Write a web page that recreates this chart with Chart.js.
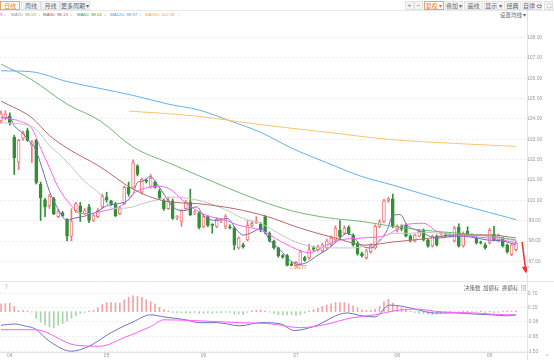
<!DOCTYPE html>
<html>
<head>
<meta charset="utf-8">
<script src="https://cdn.jsdelivr.net/npm/chart.js@4.4.0/dist/chart.umd.min.js"></script>
<style>
  body { margin: 0; width: 554px; height: 360px; background: #fff; position: relative; overflow: hidden;
         font-family: "Noto Sans CJK SC", "Liberation Sans", sans-serif; }
  .btn { position: absolute; top: 1px; height: 9px; line-height: 8px; box-sizing: border-box; font-size: 6px;
         color: #666; background: #f4f4f4; border: 1px solid #e2e2e2; text-align: center; white-space: nowrap; }
  .btn.on { background: #fff; border-color: #f2a068; color: #e8742c; }
  .lg { position: absolute; top: 12px; font-family: "Liberation Sans", sans-serif; font-size: 4.4px; line-height: 6px; white-space: nowrap; }
  .txt { position: absolute; font-size: 5.5px; line-height: 7px; color: #666; white-space: nowrap; }
  .hl { position: absolute; left: 0; width: 554px; height: 1px; background: #e8e8e8; }
  canvas { position: absolute; left: 0; }
</style>
</head>
<body>
<div class="btn on" style="left:0;width:20px">日线</div>
<div class="btn" style="left:21px;width:20px">周线</div>
<div class="btn" style="left:41px;width:19px">月线</div>
<div class="btn" style="left:60px;width:30px">更多周期 ▾</div>

<div class="btn" style="left:405px;width:9px">+</div>
<div class="btn" style="left:414px;width:9px">−</div>
<div class="btn on" style="left:424px;width:20px">复权 ▾</div>
<div class="btn" style="left:445px;width:18px">叠加 ▾</div>
<div class="btn" style="left:464px;width:19px">画线</div>
<div class="btn" style="left:484px;width:19px">显示 ▾</div>
<div class="btn" style="left:504px;width:17px">经典</div>
<div class="btn" style="left:522px;width:20px">自律 ⇔</div>
<div class="btn" style="left:544px;width:9px">⛶</div>
<div class="hl" style="top:10px"></div>

<div class="lg" style="left:0;color:#e050e0">9 ↓</div>
<div class="lg" style="left:11px;color:#999">MA20: 98.03</div><div class="lg" style="left:38px;color:#999">↓</div>
<div class="lg" style="left:43px;color:#b05050">MA30: 98.13</div><div class="lg" style="left:70px;color:#b05050">↓</div>
<div class="lg" style="left:77px;color:#3a9a3a">MA60: 98.01</div><div class="lg" style="left:104px;color:#3a9a3a">↓</div>
<div class="lg" style="left:110px;color:#4a9ae8">MA120: 98.97</div><div class="lg" style="left:139px;color:#4a9ae8">↓</div>
<div class="lg" style="left:145px;color:#f0a830">MA250: 102.68</div><div class="lg" style="left:178px;color:#f0a830">↓</div>
<div class="txt" style="left:500px;top:12px">设置均线 ▾</div>

<canvas id="main" width="554" height="260" style="top:20px"></canvas>
<div class="hl" style="top:281px"></div>
<canvas id="macd" width="554" height="80" style="top:280px"></canvas>
<div class="txt" style="left:4px;top:284px;color:#aaa">↑</div>
<div class="txt" style="left:464px;top:285px">决策数</div>
<div class="txt" style="left:483px;top:285px">加额标</div>
<div class="txt" style="left:502px;top:285px">换额标</div>
<div class="txt" style="left:521px;top:285px;color:#999">⊠</div>
<div class="txt" style="left:546px;top:352px;color:#999">»</div>
<div style="position:absolute;left:527px;top:10px;width:1px;height:350px;background:#e3e3e3"></div>

<script>
// daily candles, oldest first
const opens = [
  103.91,104.06,104.15,103.10,101.89,103.05,103.43,102.71,102.95,100.79,
  100.02,99.73,100.07,99.20,99.39,99.06,98.24,99.49,99.73,99.35,
  99.68,99.01,99.20,99.68,100.16,99.97,99.83,99.35,99.83,100.64,
  100.64,101.70,100.40,100.98,100.69,100.88,100.45,99.97,99.59,99.97,
  99.15,98.96,99.59,99.92,99.39,99.39,98.72,99.20,98.82,98.72,
  99.00,98.72,98.70,98.63,97.66,97.81,98.05,98.77,98.90,98.82,
  99.20,98.38,98.00,97.66,97.28,97.28,96.88,96.80,96.85,97.18,
  97.18,97.66,97.57,97.52,97.66,97.81,98.05,98.53,98.38,98.67,
  98.29,97.86,97.38,97.18,97.47,97.66,98.72,98.96,99.97,100.07,
  98.53,98.72,98.77,98.24,98.00,98.24,98.53,98.05,97.76,98.24,
  98.24,98.30,98.25,98.00,98.67,97.76,98.48,98.30,98.14,97.95,
  97.81,97.90,98.34,98.00,98.14,97.81,97.33,97.57
];
const closes = [
  104.25,104.25,103.82,102.09,102.95,103.29,102.95,102.86,100.88,100.12,
  99.68,100.21,99.35,99.44,99.25,98.24,98.96,99.83,99.44,99.49,
  99.01,99.25,99.49,100.21,100.02,99.83,99.25,99.59,100.64,100.31,
  101.85,101.27,101.03,100.93,101.08,100.64,100.12,99.59,99.97,99.11,
  99.18,99.49,99.92,99.30,99.44,98.67,99.20,98.77,98.77,99.06,
  99.02,99.20,98.65,97.81,98.14,97.71,98.77,98.87,98.95,98.53,
  98.43,98.00,97.66,97.28,97.20,96.80,96.80,96.95,97.47,97.04,
  97.57,97.60,97.71,97.81,98.00,98.14,98.63,98.20,98.63,98.38,
  97.81,97.38,97.28,97.52,97.76,98.72,98.96,99.97,100.07,98.72,
  98.72,98.60,98.24,98.05,98.29,98.48,98.05,97.76,98.24,97.81,
  98.29,98.25,98.30,98.63,97.76,98.38,98.29,98.25,97.90,97.90,
  97.66,98.53,98.05,98.29,97.76,97.47,97.81,97.90
];
const highs = [
  104.40,104.40,104.30,103.20,103.00,103.40,103.55,102.95,103.00,100.90,
  100.10,100.30,100.15,99.55,99.45,99.10,99.59,99.90,99.90,99.60,
  99.80,99.30,99.60,100.30,100.40,100.00,99.90,99.70,100.70,100.90,
  101.99,101.75,101.10,101.05,101.27,100.95,100.55,100.05,100.16,100.07,
  99.25,99.55,100.00,100.55,99.50,99.45,99.30,99.25,98.85,99.15,
  99.10,99.30,98.80,98.70,98.20,97.90,99.00,98.95,99.20,98.90,
  99.25,98.45,98.05,97.70,97.33,97.35,96.95,97.00,97.55,97.25,
  97.85,97.75,97.80,97.90,98.10,98.25,98.75,99.00,98.75,98.75,
  98.35,97.95,97.45,97.60,97.85,98.80,99.05,100.05,100.15,100.31,
  98.80,98.80,98.85,98.30,98.35,98.55,98.60,98.10,98.30,98.30,
  98.35,98.40,98.40,98.72,98.85,98.45,98.70,98.35,98.20,98.00,
  97.90,98.63,98.72,98.35,98.20,97.85,97.85,98.00
];
const lows = [
  103.80,103.95,103.70,101.27,101.51,102.95,102.90,101.85,100.80,99.01,
  99.20,99.60,99.30,99.15,99.20,98.00,98.00,99.40,98.96,99.30,
  98.90,98.95,99.15,99.60,99.90,99.75,99.20,99.30,99.80,100.20,
  100.60,101.20,100.30,100.85,100.60,100.60,100.05,99.50,99.55,99.06,
  99.05,98.72,99.55,99.25,99.30,98.60,98.65,98.70,98.38,98.65,
  98.90,98.60,98.60,97.57,97.60,97.65,98.00,98.70,98.85,98.45,
  98.35,97.95,97.60,97.20,97.15,96.77,96.78,96.78,96.80,97.00,
  97.10,97.50,97.50,97.45,97.60,97.75,98.00,98.10,98.30,98.30,
  97.75,97.30,97.20,97.10,97.40,97.60,98.65,98.90,99.90,98.65,
  98.45,98.50,98.20,97.95,97.95,98.20,98.00,97.70,97.70,97.75,
  98.20,98.20,98.20,97.95,97.70,97.70,98.25,98.20,97.85,97.85,
  97.60,97.85,98.00,97.95,97.70,97.40,97.28,97.50
];

// moving averages: [day index, value]
const ma5 = [[0,104.06],[2,104.06],[3,103.67],[5,103.29],[6.6,102.86],[7.7,102.57],[9.3,101.61],[11,100.45],
  [12.7,99.68],[15,99.01],[16.4,99.11],[18.6,99.2],[21.8,99.44],[24,99.73],[26.4,99.83],[28.6,99.97],[30,100.31],
  [31,100.88],[32,100.93],[34,101.17],[35.5,100.79],[37,100.31],[39,99.68],[41.4,99.49],[44.5,99.68],[46,99.25],
  [49,99.01],[51.4,99.11],[53.6,98.53],[55,98.29],[56.6,98.38],[59.3,98.63],[61,98.05],[63.4,97.57],[65.7,97.04],
  [67.5,96.85],[69.5,96.94],[71.8,97.28],[74,97.57],[76.4,98.0],[78.6,98.38],[80,98.24],[81.6,97.81],[84,97.66],
  [86,98.0],[87.7,98.53],[89,99.25],[90.7,99.3],[92.3,98.77],[95.2,98.48],[99,98.14],[103.6,98.24],[106.6,98.2],
  [110.5,98.05],[114,98.0],[117,97.81]];
const ma10 = [[0,104.1],[2,104.01],[4,103.91],[7,103.53],[9,102.57],[11,101.61],[13,100.64],[16,99.73],[18,99.35],
  [20,99.35],[22.5,99.44],[25.5,99.59],[28,99.83],[30,100.31],[32,100.55],[35.5,100.69],[38.4,100.55],[41.4,99.97],
  [44.5,99.49],[47.5,99.2],[50.5,99.06],[54,98.77],[59,98.53],[63.4,98.0],[68,97.52],[70,97.42],[74,97.81],[77,98.05],
  [81.6,98.14],[87.7,98.29],[91.4,98.77],[96,98.87],[99,98.48],[106.6,98.24],[114,98.05],[117,97.9]];
const ma20 = [[0,103.82],[7,103.63],[11,102.71],[15,101.89],[19,100.93],[22.5,100.31],[25.5,99.59],[30,99.68],
  [32,99.83],[35.5,100.02],[38.4,100.16],[44.5,100.02],[50.5,99.59],[55,99.11],[59,98.87],[63,98.38],[66.4,98.0],
  [70,97.76],[74,97.66],[80,97.66],[84.5,97.9],[89,98.38],[93,98.38],[96,98.43],[104,98.29],[111,98.24],[117,98.0]];
const ma30 = [[0,104.88],[7,104.06],[11,103.19],[15,102.57],[22.5,101.65],[30,100.55],[37,99.97],[45,99.83],
  [53,99.59],[60.5,99.2],[68,98.63],[76,98.14],[83,97.8],[89,97.95],[96,98.1],[104,98.3],[111,98.3],[117,98.15]];
const ma60 = [[0,106.7],[7,105.93],[15,104.73],[22.5,103.91],[30,102.62],[38,101.85],[44.5,101.25],[59,99.97],
  [66,99.49],[74,99.15],[82,98.96],[89,98.72],[96,98.53],[104,98.38],[111,98.24],[117,98.05]];
const ma120 = [[0,106.37],[7,106.32],[15,105.84],[22.5,105.5],[30,105.16],[38,104.73],[45,104.44],[52,103.91],
  [59,103.34],[66,102.57],[74,101.85],[82,101.17],[89,100.75],[96,100.3],[104,99.8],[111,99.4],[117,99.05]];
const ma250 = [[29,104.39],[44,104.15],[59,103.72],[74,103.35],[88,103.0],[103,102.8],[117,102.65]];

// MACD panel
const macdHist = [
  0.30,0.30,0.32,0.20,0.04,0.04,0.03,-0.02,-0.26,-0.40,
  -0.50,-0.58,-0.62,-0.52,-0.45,-0.36,-0.25,-0.15,-0.06,-0.03,
  0.02,0.05,0.15,0.27,0.35,0.35,0.33,0.33,0.45,0.55,
  0.60,0.58,0.55,0.46,0.38,0.30,0.17,0.08,0.03,-0.03,
  -0.05,-0.04,-0.05,-0.06,-0.03,-0.07,-0.07,-0.05,-0.06,-0.04,
  -0.05,-0.02,-0.03,-0.10,-0.09,-0.11,-0.03,0.04,0.05,0.06,
  0.03,-0.02,-0.08,-0.12,-0.13,-0.12,-0.11,-0.14,-0.12,-0.05,
  0.03,0.08,0.13,0.20,0.25,0.30,0.35,0.35,0.35,0.30,
  0.22,0.15,0.07,0.05,0.06,0.10,0.20,0.38,0.47,0.33,
  0.22,0.15,0.08,0.02,-0.04,-0.06,-0.08,-0.10,-0.12,-0.10,
  -0.08,-0.05,-0.04,-0.03,-0.02,0.02,0.02,-0.02,-0.02,0.02,
  -0.03,0.02,-0.04,-0.03,0.02,0.03,0.02,0.03
];
const dif = [[0,-0.52],[3,-0.47],[5.5,-0.55],[7.7,-0.65],[11,-1.13],[16,-1.51],[20,-1.32],[25,-0.8],[30,-0.39],
  [34,-0.12],[37,-0.2],[42,-0.31],[45,-0.42],[49,-0.42],[54.3,-0.54],[59,-0.42],[63.4,-0.46],[66.6,-0.72],[71,-0.57],
  [78.6,-0.05],[82,-0.16],[85,-0.2],[88.2,0.25],[91,0.21],[94,0.1],[98.4,-0.05],[103,-0.05],[107.5,-0.09],
  [111.4,-0.12],[115,-0.16],[117,-0.12]];
const dea = [[0,-0.69],[7.7,-0.69],[17,-1.28],[22.5,-1.32],[28,-0.99],[34,-0.57],[37,-0.31],[45,-0.35],[54,-0.42],
  [61,-0.46],[68,-0.61],[73.4,-0.5],[79.5,-0.24],[85,-0.12],[89.3,0.03],[94,0.1],[100,-0.01],[107.5,-0.05],
  [115,-0.12],[117,-0.12]];

const priceTicks = [97, 98, 99, 100, 101, 102, 103, 104, 105, 106, 107, 108];
const macdTicks = [0.70, 0.15, -0.38, -0.95, -1.53];
const monthIdx = [2, 24, 46, 67, 90, 111];
const monthLabels = ["04", "05", "06", "07", "08", "09"];

const UP = "#f07878", DOWN = "#348f34";
const isUp = closes.map((c, i) => c >= opens[i]);
const pts = arr => arr.map(([x, y]) => ({ x: x, y: y }));
const maLine = (arr, color) => ({
  type: "line", data: pts(arr), borderColor: color, borderWidth: 1, pointRadius: 0,
  cubicInterpolationMode: "monotone", order: 1
});

const xRange = { type: "linear", min: -0.23, max: 119.5, offset: false };
const smallFont = { family: "Liberation Sans", size: 5 };

// label for the lowest low and the trend arrow at the end
const marks = {
  id: "marks",
  afterDraw(chart) {
    const { ctx, scales: { x, y } } = chart;
    const lo = Math.min(...lows), li = lows.indexOf(lo);
    ctx.save();
    ctx.fillStyle = "#f0641e";
    ctx.font = '5px "Liberation Sans"';
    ctx.textBaseline = "middle";
    ctx.fillText("←" + lo.toFixed(2), x.getPixelForValue(li) + 2, y.getPixelForValue(lo) + 2);

    const last = closes.length - 1;
    const x0 = x.getPixelForValue(last + 1.4), y0 = y.getPixelForValue(closes[last] + 0.05);
    const x1 = x.getPixelForValue(last + 2.3), y1 = y.getPixelForValue(closes[last] - 1.5);
    const a = Math.atan2(y1 - y0, x1 - x0);
    ctx.strokeStyle = ctx.fillStyle = "#ee3434";
    ctx.lineWidth = 1.6;
    ctx.beginPath(); ctx.moveTo(x0, y0); ctx.lineTo(x1 - 5 * Math.cos(a), y1 - 5 * Math.sin(a)); ctx.stroke();
    ctx.beginPath();
    ctx.moveTo(x1, y1);
    ctx.lineTo(x1 - 7 * Math.cos(a) + 3.5 * Math.sin(a), y1 - 7 * Math.sin(a) - 3.5 * Math.cos(a));
    ctx.lineTo(x1 - 7 * Math.cos(a) - 3.5 * Math.sin(a), y1 - 7 * Math.sin(a) + 3.5 * Math.cos(a));
    ctx.closePath(); ctx.fill();
    ctx.restore();
  }
};

new Chart(document.getElementById("main"), {
  type: "bar",
  data: {
    datasets: [
      {
        data: highs.map((h, i) => ({ x: i, y: [lows[i], h] })),
        backgroundColor: isUp.map(u => (u ? UP : DOWN)),
        barThickness: 1, grouped: false, order: 3
      },
      {
        data: opens.map((o, i) => ({ x: i, y: [o, closes[i]] })),
        backgroundColor: isUp.map(u => (u ? "#ffffff" : DOWN)),
        borderColor: isUp.map(u => (u ? UP : DOWN)),
        borderWidth: 1, borderSkipped: false, minBarLength: 1,
        barThickness: 3, grouped: false, order: 2
      },
      maLine(ma250, "#fbc46a"),
      maLine(ma120, "#62b0f2"),
      maLine(ma60, "#72b872"),
      maLine(ma30, "#b86868"),
      maLine(ma20, "#c4c4c4"),
      maLine(ma10, "#f266f2"),
      maLine(ma5, "#6c6cbc")
    ]
  },
  options: {
    responsive: false,
    animation: false,
    plugins: { legend: { display: false }, tooltip: { enabled: false } },
    layout: { padding: 0 },
    scales: {
      x: Object.assign({ display: false }, xRange),
      y: {
        position: "right", min: 96.23, max: 108.72,
        afterBuildTicks: s => { s.ticks = priceTicks.map(v => ({ value: v })); },
        afterFit: s => { s.width = 27; },
        ticks: { font: smallFont, color: "#999", padding: 0, crossAlign: "center", callback: v => v.toFixed(2) },
        grid: { color: "#ececec", drawTicks: false },
        border: { color: "#e3e3e3", dash: [2, 2] }
      }
    }
  },
  plugins: [marks]
});

new Chart(document.getElementById("macd"), {
  type: "bar",
  data: {
    datasets: [
      {
        data: macdHist.map((v, i) => ({ x: i, y: v })),
        backgroundColor: macdHist.map(v => (v >= 0 ? "#f3a3a3" : "#a6d6a6")),
        barThickness: 1, grouped: false, order: 2
      },
      { type: "line", data: pts(dea), borderColor: "#ff5cff", borderWidth: 1, pointRadius: 0, cubicInterpolationMode: "monotone", order: 1 },
      { type: "line", data: pts(dif), borderColor: "#7070c4", borderWidth: 1, pointRadius: 0, cubicInterpolationMode: "monotone", order: 1 }
    ]
  },
  options: {
    responsive: false,
    animation: false,
    plugins: { legend: { display: false }, tooltip: { enabled: false } },
    layout: { padding: { top: 3 } },
    scales: {
      x: Object.assign({
        afterBuildTicks: s => { s.ticks = monthIdx.map(v => ({ value: v })); },
        afterFit: s => { s.height = 8; },
        ticks: { font: smallFont, color: "#999", padding: 1, maxRotation: 0, autoSkip: false,
                 callback: (v, i) => monthLabels[i] },
        grid: { display: false, drawTicks: false },
        border: { color: "#e3e3e3" }
      }, xRange),
      y: {
        position: "right", min: -1.54, max: 1.094,
        afterBuildTicks: s => { s.ticks = macdTicks.map(v => ({ value: v })); },
        afterFit: s => { s.width = 27; },
        ticks: { font: smallFont, color: "#999", padding: 0, crossAlign: "center", callback: v => v.toFixed(2) },
        grid: { color: "#ececec", drawTicks: false },
        border: { color: "#e3e3e3", dash: [2, 2] }
      }
    }
  }
});
</script>
</body>
</html>
